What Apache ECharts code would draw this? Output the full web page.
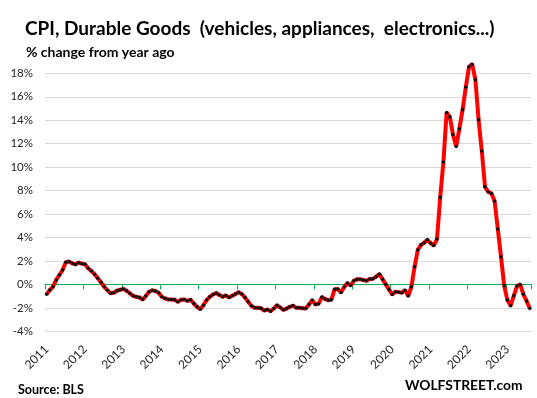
<!DOCTYPE html>
<html>
<head>
<meta charset="utf-8">
<script src="https://cdn.jsdelivr.net/npm/echarts@6/dist/echarts.min.js"></script>
<style>
html,body{margin:0;padding:0;background:#fff;}
#chart{width:537px;height:398px;}
</style>
</head>
<body>
<div id="chart"></div>
<script>
// Monthly categories Jan 2011 .. Aug 2023
var years = ['2011','2012','2013','2014','2015','2016','2017','2018','2019','2020','2021','2022','2023'];
var months = ['01','02','03','04','05','06','07','08','09','10','11','12'];
var categories = [];
years.forEach(function (y) { months.forEach(function (m) { if (!(y === '2023' && +m > 8)) categories.push(y + '-' + m); }); });

// CPI Durable goods, % change from year ago
var v2011 = [-0.85, -0.48, -0.2, 0.38, 0.8, 1.23, 1.89, 1.95, 1.8, 1.7, 1.86, 1.77];
var v2012 = [1.72, 1.38, 1.15, 0.86, 0.52, 0.18, -0.2, -0.5, -0.76, -0.71, -0.54, -0.45];
var v2013 = [-0.4, -0.54, -0.76, -0.97, -1.06, -1.11, -1.29, -1.0, -0.63, -0.51, -0.57, -0.71];
var v2014 = [-1.06, -1.2, -1.29, -1.29, -1.31, -1.49, -1.31, -1.29, -1.4, -1.31, -1.63, -1.91];
var v2015 = [-2.11, -1.77, -1.34, -1.06, -0.86, -0.74, -0.91, -1.06, -0.94, -1.11, -0.97, -0.83];
var v2016 = [-0.67, -0.83, -1.11, -1.49, -1.83, -2.0, -2.0, -2.03, -2.23, -2.14, -2.29, -2.06];
var v2017 = [-1.77, -1.97, -2.17, -2.06, -1.91, -1.8, -2.0, -2.0, -2.03, -2.06, -1.71, -1.34];
var v2018 = [-1.72, -1.65, -1.08, -1.24, -1.36, -1.3, -0.42, -0.4, -0.7, -0.22, 0.12, -0.1];
var v2019 = [0.31, 0.43, 0.43, 0.37, 0.31, 0.46, 0.49, 0.66, 0.89, 0.43, 0.0, -0.43];
var v2020 = [-0.86, -0.63, -0.66, -0.71, -0.49, -1.0, -0.2, 1.51, 2.94, 3.37, 3.55, 3.8];
var v2021 = [3.51, 3.31, 3.86, 7.43, 10.43, 14.65, 14.3, 12.77, 11.75, 13.28, 14.9, 16.8];
var v2022 = [18.55, 18.78, 17.45, 14.03, 11.38, 8.32, 7.9, 7.76, 7.1, 4.72, 2.36, -0.11];
var v2023 = [-1.34, -1.82, -0.97, -0.14, 0.0, -0.85, -1.42, -2.05];
var values = [].concat(v2011, v2012, v2013, v2014, v2015, v2016, v2017, v2018, v2019, v2020, v2021, v2022, v2023);

var yTicks = { min: -4, max: 18, step: 2 };

var FONT = 'Lato';
var chart = echarts.init(document.getElementById('chart'), null, { renderer: 'canvas' });
var yearStart = function (idx) { return idx % 12 === 0; };

chart.setOption({
  animation: false,
  backgroundColor: '#ffffff',
  title: [
    { text: 'CPI, Durable Goods  (vehicles, appliances,  electronics...)', left: 20, top: 14,
      textStyle: { fontFamily: FONT, fontWeight: 'bold', fontSize: 19, color: '#000' } },
    { text: '% change from year ago', left: 21, top: 40,
      textStyle: { fontFamily: FONT, fontWeight: 'bold', fontSize: 14, color: '#000' } },
    { text: 'Source: BLS', left: 13, top: 378,
      textStyle: { fontFamily: FONT, fontWeight: 'bold', fontSize: 12.5, color: '#000' } },
    { text: 'WOLFSTREET.com', left: 400, top: 374,
      textStyle: { fontFamily: FONT, fontWeight: 'bold', fontSize: 13.8, color: '#000' } }
  ],
  grid: { left: 45, right: 5.6, top: 73.3, bottom: 66.7, containLabel: false },
  xAxis: [
    {
      type: 'category', data: categories, boundaryGap: true, position: 'bottom',
      axisLine: { show: false, onZero: false },
      axisTick: { show: false },
      splitLine: { show: false },
      axisLabel: {
        interval: yearStart, rotate: 45, margin: 16,
        formatter: function (v) { return v.slice(0, 4); },
        fontFamily: FONT, fontSize: 12, color: '#262626'
      }
    },
    {
      type: 'category', data: categories, boundaryGap: true, position: 'bottom',
      axisLine: { show: true, onZero: true, lineStyle: { color: '#00b050', width: 1 } },
      axisTick: { show: true, interval: yearStart, length: 5, lineStyle: { color: '#00b050', width: 1 } },
      axisLabel: { show: false },
      splitLine: { show: false }
    }
  ],
  yAxis: {
    type: 'value', min: yTicks.min, max: yTicks.max, interval: yTicks.step,
    axisLine: { show: false }, axisTick: { show: false },
    splitLine: { lineStyle: { color: '#d9d9d9', width: 1 } },
    axisLabel: { formatter: '{value}%', margin: 12, fontFamily: FONT, fontSize: 11.5, color: '#262626' }
  },
  series: [{
    type: 'line', data: values, xAxisIndex: 0, clip: false,
    lineStyle: { color: '#ff0000', width: 4 },
    symbol: 'circle', symbolSize: 3.5, showSymbol: true, showAllSymbol: true,
    itemStyle: { color: '#111111', borderWidth: 0 },
    z: 5
  }]
});
</script>
</body>
</html>
